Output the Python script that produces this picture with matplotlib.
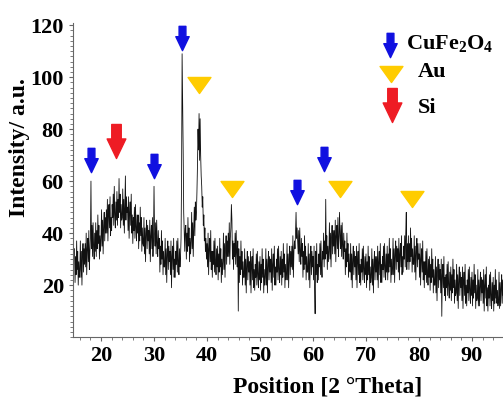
import numpy as np
import matplotlib
matplotlib.use("Agg")
import matplotlib.pyplot as plt
from matplotlib.path import Path
from matplotlib.ticker import MultipleLocator

# XRD pattern: 2theta from 15 to 96 deg, step 0.1 (one row per degree)
theta_start = 15.0
theta_step = 0.1
intensity = [
    34, 21, 31, 24, 37, 26, 33, 20, 29, 23,   # 15
    26, 37, 23, 33, 20, 31, 36, 25, 34, 28,   # 16
    36, 27, 40, 24, 34, 38, 29, 41, 26, 33,   # 17
    38, 60, 34, 43, 31, 44, 35, 30, 40, 33,   # 18
    44, 31, 41, 34, 47, 36, 43, 30, 39, 33,   # 19
    38, 49, 35, 45, 32, 43, 48, 37, 46, 40,   # 20
    49, 40, 53, 37, 47, 51, 42, 54, 39, 46,   # 21
    41, 51, 46, 55, 43, 58, 47, 42, 52, 45,   # 22
    56, 43, 53, 46, 61, 48, 55, 42, 51, 45,   # 23
    46, 57, 43, 53, 40, 51, 62, 45, 54, 48,   # 24
    50, 41, 54, 38, 48, 52, 43, 55, 40, 47,   # 25
    36, 46, 41, 50, 38, 51, 42, 37, 47, 40,   # 26
    47, 34, 44, 37, 50, 39, 46, 33, 42, 36,   # 27
    35, 46, 32, 42, 29, 40, 45, 34, 43, 37,   # 28
    41, 32, 45, 29, 39, 43, 34, 46, 31, 38,   # 29
    58, 40, 35, 44, 32, 45, 36, 31, 41, 34,   # 30
    38, 25, 35, 28, 41, 30, 37, 24, 33, 27,   # 31
    27, 38, 24, 34, 21, 32, 37, 26, 35, 29,   # 32
    33, 24, 37, 19, 31, 35, 26, 38, 23, 30,   # 33
    23, 33, 28, 37, 25, 38, 29, 24, 34, 27,   # 34
    31, 38, 62, 109, 90, 72, 48, 40, 33, 42,  # 35
    43, 30, 40, 33, 46, 35, 42, 29, 38, 32,   # 36
    37, 48, 34, 44, 31, 42, 50, 39, 52, 45,   # 37
    48, 56, 66, 80, 72, 86, 68, 84, 70, 62,   # 38
    58, 50, 54, 43, 47, 37, 42, 33, 38, 30,   # 39
    36, 27, 40, 24, 34, 38, 29, 41, 26, 33,   # 40
    23, 33, 28, 37, 25, 38, 29, 24, 34, 27,   # 41
    35, 22, 32, 25, 38, 27, 34, 21, 30, 24,   # 42
    29, 40, 26, 36, 23, 34, 39, 28, 37, 31,   # 43
    40, 31, 44, 28, 38, 42, 51, 45, 30, 37,   # 44
    26, 36, 31, 40, 28, 41, 32, 27, 37, 10,   # 45
    34, 21, 31, 24, 37, 26, 33, 20, 29, 23,   # 46
    23, 34, 20, 30, 17, 28, 33, 22, 31, 25,   # 47
    29, 20, 33, 17, 27, 31, 22, 34, 19, 26,   # 48
    18, 28, 23, 32, 20, 33, 24, 19, 29, 22,   # 49
    31, 18, 28, 21, 34, 23, 30, 17, 26, 20,   # 50
    23, 34, 20, 30, 17, 28, 33, 22, 31, 25,   # 51
    30, 21, 34, 18, 28, 32, 23, 35, 20, 27,   # 52
    20, 30, 25, 34, 22, 35, 26, 21, 31, 24,   # 53
    33, 20, 30, 23, 36, 25, 32, 19, 28, 22,   # 54
    25, 36, 22, 32, 19, 30, 35, 24, 33, 27,   # 55
    35, 26, 39, 23, 33, 37, 34, 40, 48, 38,   # 56
    42, 37, 32, 41, 29, 42, 33, 28, 38, 31,   # 57
    36, 23, 33, 26, 39, 28, 35, 22, 31, 25,   # 58
    25, 36, 22, 32, 19, 30, 35, 24, 33, 27,   # 59
    31, 22, 35, 19, 9, 33, 24, 36, 21, 28,    # 60
    22, 32, 27, 36, 24, 37, 28, 23, 33, 30,   # 61
    40, 27, 37, 30, 53, 32, 39, 26, 35, 29,   # 62
    33, 44, 30, 40, 27, 38, 43, 32, 41, 35,   # 63
    41, 32, 45, 29, 39, 43, 34, 46, 31, 38,   # 64
    48, 39, 34, 43, 31, 44, 35, 30, 40, 33,   # 65
    37, 24, 34, 27, 40, 29, 36, 23, 32, 26,   # 66
    25, 36, 22, 32, 19, 30, 35, 24, 33, 27,   # 67
    31, 22, 35, 19, 29, 33, 24, 36, 21, 28,   # 68
    20, 30, 25, 34, 22, 35, 26, 21, 31, 24,   # 69
    32, 19, 29, 22, 35, 24, 31, 18, 27, 21,   # 70
    23, 34, 20, 30, 17, 28, 33, 22, 31, 25,   # 71
    31, 22, 35, 19, 29, 33, 24, 36, 21, 28,   # 72
    21, 31, 26, 35, 23, 36, 27, 22, 32, 25,   # 73
    35, 22, 32, 25, 38, 27, 34, 21, 30, 24,   # 74
    27, 38, 24, 34, 21, 32, 37, 26, 35, 29,   # 75
    34, 25, 38, 22, 32, 36, 27, 39, 24, 31,   # 76
    25, 35, 30, 39, 27, 40, 48, 26, 36, 29,   # 77
    39, 26, 36, 29, 42, 31, 38, 25, 34, 28,   # 78
    28, 39, 25, 35, 22, 33, 38, 27, 36, 30,   # 79
    32, 23, 36, 20, 30, 34, 25, 37, 22, 29,   # 80
    19, 29, 24, 33, 21, 34, 25, 20, 30, 23,   # 81
    31, 18, 28, 21, 34, 23, 30, 17, 26, 20,   # 82
    20, 31, 17, 27, 14, 25, 30, 19, 28, 22,   # 83
    26, 17, 30, 8, 24, 28, 19, 31, 16, 23,    # 84
    14, 24, 19, 28, 16, 29, 20, 15, 25, 18,   # 85
    27, 14, 24, 17, 30, 19, 26, 13, 22, 16,   # 86
    17, 28, 14, 24, 11, 22, 27, 16, 25, 19,   # 87
    23, 14, 27, 11, 21, 25, 16, 28, 13, 20,   # 88
    12, 22, 17, 26, 14, 27, 18, 13, 23, 16,   # 89
    25, 12, 22, 15, 28, 17, 24, 11, 20, 14,   # 90
    15, 26, 12, 22, 12, 20, 25, 14, 23, 17,   # 91
    22, 13, 26, 10, 20, 24, 15, 27, 12, 19,   # 92
    10, 20, 15, 24, 12, 25, 16, 11, 21, 14,   # 93
    23, 10, 20, 13, 26, 15, 22, 13, 18, 12,   # 94
    14, 25, 11, 21, 12, 19, 24, 13, 22, 16,   # 95
    17,
]
two_theta = theta_start + theta_step * np.arange(len(intensity))

# phase markers: 2theta position and height of the marker centre
cufe2o4_x = [18.1, 30.0, 35.3, 57.0, 62.0]
cufe2o4_y = [68, 66, 115, 56, 68.5]
au_x = [38.5, 44.7, 65.1, 78.7]
au_y = [97, 57, 57, 53]
si_x = [22.8]
si_y = [75.5]

BLUE = "#1010e0"
GOLD = "#ffcc00"
RED = "#ee1c24"

arrow = Path([(-0.28, 1), (0.28, 1), (0.28, 0.15), (0.55, 0.15), (0, -1),
              (-0.55, 0.15), (-0.28, 0.15), (-0.28, 1)], closed=True)
tri = Path([(-1, 0.7), (1, 0.7), (0, -0.7), (-1, 0.7)], closed=True)

plt.rcParams["font.family"] = "Liberation Serif"
plt.rcParams["font.weight"] = "bold"
plt.rcParams["mathtext.fontset"] = "custom"
plt.rcParams["mathtext.rm"] = "Liberation Serif:bold"
plt.rcParams["mathtext.bf"] = "Liberation Serif:bold"
plt.rcParams["mathtext.it"] = "Liberation Serif:bold"

fig = plt.figure(figsize=(5.03, 3.98), dpi=100)
ax = fig.add_axes([0.145, 0.153, 0.855, 0.789])

ax.plot(two_theta, intensity, color="#111111", lw=0.6)

ax.plot(cufe2o4_x, cufe2o4_y, ls="none", marker=arrow, ms=17.5, color=BLUE)
ax.plot(au_x, au_y, ls="none", marker=tri, ms=16.5, color=GOLD)
ax.plot(si_x, si_y, ls="none", marker=arrow, ms=24.5, color=RED)

ax.set_xlim(14.7, 95.85)
ax.set_ylim(0, 120.8)
ax.xaxis.set_major_locator(MultipleLocator(10))
ax.xaxis.set_minor_locator(MultipleLocator(2))
ax.yaxis.set_minor_locator(MultipleLocator(2))
ax.set_yticks([20, 40, 60, 80, 100, 120])
ax.tick_params(which="both", direction="out", color="#666666", labelsize=16)
ax.tick_params(which="major", length=3, width=0.8)
ax.tick_params(which="minor", length=2, width=0.6)
for lab in ax.get_xticklabels() + ax.get_yticklabels():
    lab.set_fontweight("bold")
for s in ["top", "right"]:
    ax.spines[s].set_visible(False)
for s in ["left", "bottom"]:
    ax.spines[s].set_color("#666666")
    ax.spines[s].set_linewidth(0.8)

ax.set_xlabel("Position [2 °Theta]", fontsize=17, fontweight="bold")
ax.xaxis.set_label_coords(0.593, -0.125)
ax.set_ylabel("Intensity/ a.u.", fontsize=17, fontweight="bold")
ax.yaxis.set_label_coords(-0.10, 0.605)

# legend drawn by hand
W, H = 503, 398
fig.lines.append(plt.Line2D([390 / W], [1 - 45 / H], transform=fig.transFigure,
                            marker=arrow, ms=17.5, color=BLUE, ls="none"))
fig.lines.append(plt.Line2D([391 / W], [1 - 74 / H], transform=fig.transFigure,
                            marker=tri, ms=16.5, color=GOLD, ls="none"))
fig.lines.append(plt.Line2D([392 / W], [1 - 105 / H], transform=fig.transFigure,
                            marker=arrow, ms=24.5, color=RED, ls="none"))
fig.text(406 / W, 1 - 43 / H, "CuFe$_2$O$_4$", fontsize=16,
         fontweight="bold", va="center", ha="left")
fig.text(418 / W, 1 - 72 / H, "Au", fontsize=16, fontweight="bold", va="center", ha="left")
fig.text(418 / W, 1 - 108 / H, "Si", fontsize=16, fontweight="bold", va="center", ha="left")

fig.savefig("out.png", dpi=100)
